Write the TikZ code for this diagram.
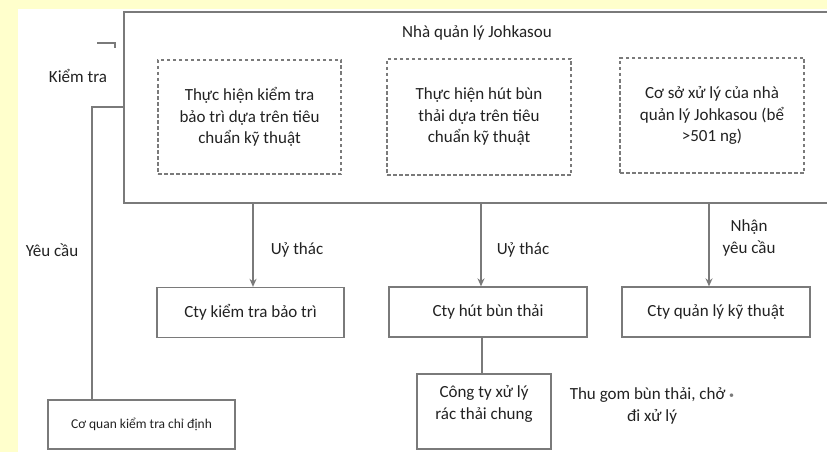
\documentclass[tikz,border=0pt]{standalone}
\usepackage{fontspec}
\setmainfont{Carlito}
\usetikzlibrary{arrows.meta}
\definecolor{pagebg}{HTML}{FFFFCC}
\definecolor{linegray}{HTML}{7A7A7A}
\definecolor{inkgray}{HTML}{222222}
\begin{document}
\begin{tikzpicture}[x=1pt,y=-1pt,
  every node/.style={text=inkgray, font=\fontsize{17}{21.5}\selectfont, inner sep=0pt},
  frame/.style={draw=linegray, line width=1.3pt, rectangle},
  dashbox/.style={draw=linegray, line width=1.1pt, dash pattern=on 3.5pt off 2.5pt, rectangle, align=center},
  orgbox/.style={draw=linegray, line width=1.3pt, rectangle, align=center},
  link/.style={draw=linegray, line width=1.3pt},
  arr/.style={link, -{Stealth[length=8pt,width=7pt]}},
  lbl/.style={align=center}]
  % canvas and clipping
  \path[use as bounding box] (0,0) rectangle (827,452);
  \clip (0,0) rectangle (827,452);
  \fill[pagebg] (0,0) rectangle (827,452);
  \fill[white] (18,9) rectangle (827,452);

  % manager frame (runs off the right edge)
  \node[frame, minimum width=716pt, minimum height=191pt] (mgr) at (482,107.5) {};
  \node (title) at (477,33) {Nhà quản lý Johkasou};

  % tasks inside the manager frame
  \node[dashbox, minimum width=183pt, minimum height=114pt] (d1) at (249.5,117)
    {Thực hiện kiểm tra\\bảo trì dựa trên tiêu\\chuẩn kỹ thuật};
  \node[dashbox, minimum width=184pt, minimum height=116pt] (d2) at (479,117)
    {Thực hiện hút bùn\\thải dựa trên tiêu\\chuẩn kỹ thuật};
  \node[dashbox, minimum width=184pt, minimum height=115pt] (d3) at (712,115.5)
    {Cơ sở xử lý của nhà\\quản lý Johkasou (bể\\>501 ng)};

  % companies
  \node[orgbox, minimum width=187pt, minimum height=50pt] (b1) at (250.5,312.5) {Cty kiểm tra bảo trì};
  \node[orgbox, minimum width=198pt, minimum height=50pt] (b2) at (488,312) {Cty hút bùn thải};
  \node[orgbox, minimum width=188pt, minimum height=50pt] (b3) at (716,312) {Cty quản lý kỹ thuật};
  \node[orgbox, minimum width=134pt, minimum height=75pt] (b4) at (484,411.5) {};
  \node[lbl] (b4text) at (484,404) {Công ty xử lý\\rác thải chung};
  \node[orgbox, minimum width=187pt, minimum height=49pt, font=\fontsize{13.5}{16}\selectfont] (b5) at (141.5,424.5)
    {Cơ quan kiểm tra chỉ định};

  % delegation arrows
  \draw[arr] (b1.north |- mgr.south) ++(2.5,0) coordinate (a1) -- (a1 |- b1.north);
  \draw[arr] ([xshift=-7pt]b2.north |- mgr.south) -- ([xshift=-7pt]b2.north);
  \draw[arr] ([xshift=-7pt]b3.north |- mgr.south) -- ([xshift=-7pt]b3.north);
  \draw[link] ([xshift=-2pt]b4.north |- b2.south) -- ([xshift=-2pt]b4.north);

  % inspection line
  \coordinate (k) at (92,107);
  \draw[link] (mgr.west |- k) -- (k) -- (k |- b5.north);
  \coordinate (h1) at (97,43);
  \coordinate (h2) at (115,43);
  \draw[link, line width=1.1pt] (h1) -- (h2) -- ++(0,5);

  % labels
  \node (lk) at (78,76) {Kiểm tra};
  \node (ly) at (52,250) {Yêu cầu};
  \node (lu1) at (297,250) {Uỷ thác};
  \node (lu2) at (523,250) {Uỷ thác};
  \node[lbl] (ln) at (749,238) {Nhận\\yêu cầu};
  \node[lbl] (lt) at (652,406) {Thu gom bùn thải, chở {\color{linegray}\raisebox{1pt}{\normalsize•}}\\đi xử lý};
\end{tikzpicture}
\end{document}
